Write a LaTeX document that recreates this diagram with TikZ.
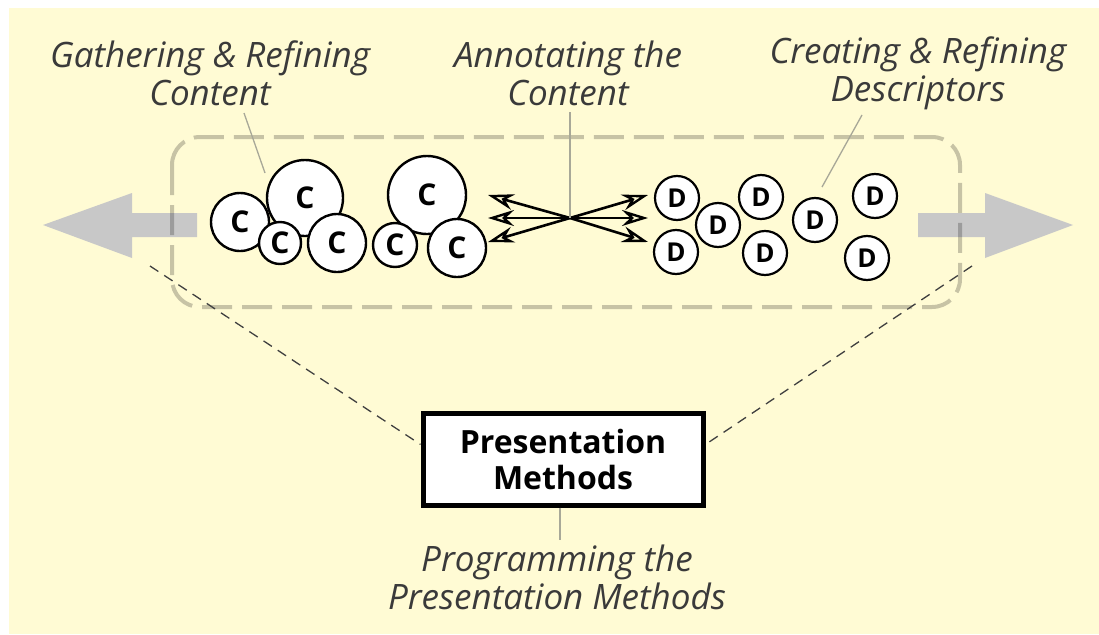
\documentclass[tikz,border=0pt]{standalone}
\usepackage{fontspec}
\setmainfont{Open Sans}
\usetikzlibrary{arrows.meta,calc}
\definecolor{paper}{HTML}{FFFBD4}
\definecolor{shade}{HTML}{C8C8C8}
\definecolor{ink}{HTML}{3A3A3A}
\definecolor{leader}{HTML}{A8A898}
\begin{document}
\begin{tikzpicture}[x=1pt,y=-1pt,
  bubble/.style={circle, draw=black, line width=2.4pt, fill=white, inner sep=0pt,
    minimum size=#1, font=\fontsize{30}{30}\selectfont\bfseries},
  dbub/.style={circle, draw=black, line width=2.2pt, fill=white, inner sep=0pt,
    minimum size=44pt, font=\fontsize{26}{26}\selectfont\bfseries},
  caption/.style={align=center, text=ink, font=\fontsize{35}{38}\selectfont\itshape},
  leaderline/.style={draw=leader, line width=1.3pt},
  guide/.style={draw=black!75, line width=1.3pt, dash pattern=on 10pt off 7pt},
  fan/.style={draw=black, line width=2.6pt, -{Stealth[open, length=26pt, width=16pt, line width=2.4pt]}},
  bigarrow/.style={fill=shade, draw=none}
]
\useasboundingbox (0,0) rectangle (1099,634);
\fill[white] (0,0) rectangle (1099,634);
\fill[paper] (9,8) rectangle (1099,634);

% broad grey arrows on both sides
\path[bigarrow] (197,213) -- (132,213) -- (132,193) -- (43,225) -- (132,258) -- (132,237) -- (197,237) -- cycle;
\path[bigarrow] (918,213) -- (985,213) -- (985,193) -- (1073,225) -- (985,258) -- (985,237) -- (918,237) -- cycle;

% dashed rounded frame around the content and descriptors
\draw[black, opacity=0.22, line width=4pt, dash pattern=on 30pt off 10pt, rounded corners=28pt]
  (172,137) rectangle (960,307);

% content bubbles
\node[bubble=76pt] (c2) at (305,198) {C};
\node[bubble=58pt] (c1) at (240,222) {C};
\node[bubble=78pt] (c6) at (427,195) {C};
\node[bubble=42pt] (c3) at (280,243) {C};
\node[bubble=58pt] (c4) at (337,243) {C};
\node[bubble=44pt] (c5) at (395,245) {C};
\node[bubble=58pt] (c7) at (457,248) {C};

% descriptor bubbles
\node[dbub] (d1) at (677,198) {D};
\node[dbub] (d2) at (718,225) {D};
\node[dbub] (d3) at (761,197) {D};
\node[dbub] (d4) at (676,252) {D};
\node[dbub] (d5) at (765,253) {D};
\node[dbub] (d6) at (815,220) {D};
\node[dbub] (d7) at (875,196) {D};
\node[dbub] (d8) at (867,258) {D};

% annotation fan between content and descriptors
\coordinate (x) at (570,218);
\coordinate (l1) at (488,195);
\coordinate (l2) at (488,218);
\coordinate (l3) at (488,242);
\coordinate (r1) at (648,195);
\coordinate (r2) at (648,218);
\coordinate (r3) at (648,242);
\foreach \t in {l1,l2,l3,r1,r2,r3} \draw[fan] (x) -- (\t);

% captions
\node[caption] (gath) at (210,73) {Gathering \& Refining\\Content};
\node[caption] (anno) at (568,73) {Annotating the\\Content};
\node[caption] (crea) at (918,73) {Creating \& Refining\\Descriptors};
\node[caption] (prog) at (557,577) {Programming the\\Presentation Methods};

% presentation box
\node[draw=black, line width=5pt, fill=white, minimum width=280pt, minimum height=92pt,
  align=center, font=\fontsize{32}{36}\selectfont\bfseries] (pm) at (563,459)
  {Presentation\\Methods};

% leaders from captions
\coordinate (ga) at (244,113);
\coordinate (gb) at (265,173);
\draw[leaderline] (ga) -- (gb);
\coordinate (aa) at (570,112);
\draw[leaderline] (aa) -- (x);
\coordinate (ca) at (862,115);
\coordinate (cb) at (822,187);
\draw[leaderline] (ca) -- (cb);
\coordinate (pa) at (560,540);
\draw[leaderline] ($(pm.south)+(-3,0)$) -- (pa);

% dashed guides from the frame corners to the box
\coordinate (gl) at (150,266);
\coordinate (gr) at (972,266);
\draw[guide] (gl) -- ($(pm.north west)!0.35!(pm.south west)$);
\draw[guide] (gr) -- ($(pm.north east)!0.35!(pm.south east)$);
\end{tikzpicture}
\end{document}
